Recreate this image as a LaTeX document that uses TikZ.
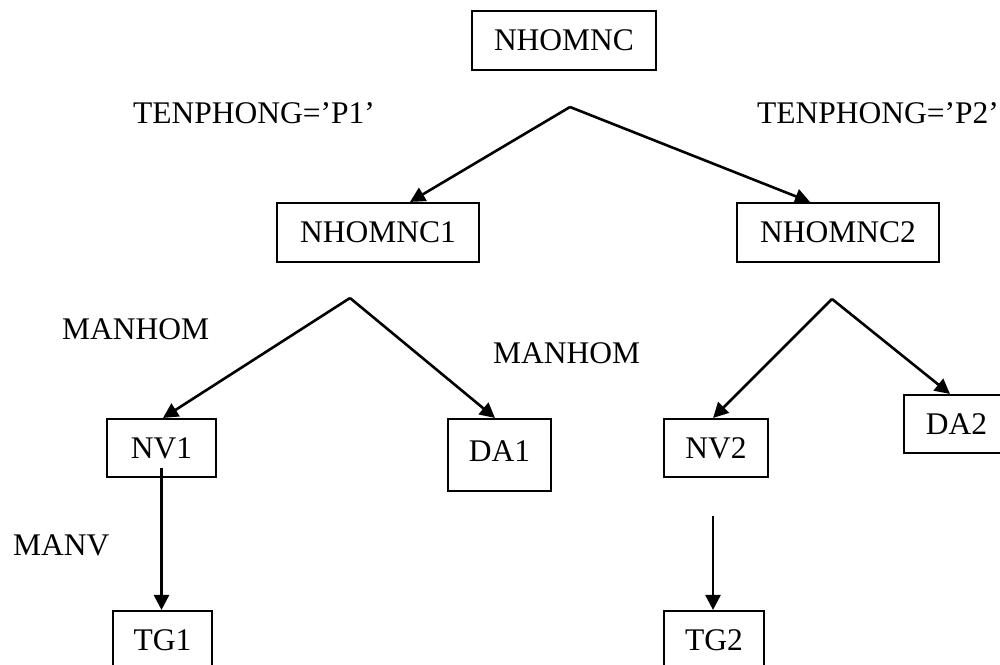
\documentclass[tikz,border=0pt]{standalone}
\usepackage{fontspec}
\setmainfont{Liberation Serif}
\usetikzlibrary{arrows.meta}
\tikzset{
  box/.style={draw, line width=2.1pt, inner sep=0pt, font=\fontsize{31.5pt}{36pt}\selectfont},
  lbl/.style={inner sep=0pt, anchor=base west, font=\fontsize{31.5pt}{36pt}\selectfont},
  arr/.style={line width=2.6pt, -{Triangle[length=15pt,width=15pt]}},
  ln/.style={line width=2.6pt}
}
\begin{document}
\begin{tikzpicture}[x=1pt,y=-1pt]
\useasboundingbox (0,0) rectangle (1000,664);
% boxes
\node[box, minimum width=184pt, minimum height=59pt] (top) at (564,40.5) {NHOMNC};
\node[box, minimum width=202pt, minimum height=59pt] (n1) at (378,232.5) {NHOMNC1};
\node[box, minimum width=202pt, minimum height=59pt] (n2) at (838,232.5) {NHOMNC2};
\node[box, minimum width=109pt, minimum height=58pt] (nv1) at (161.5,448) {NV1};
\node[box, minimum width=103pt, minimum height=72pt, text depth=8pt] (da1) at (499.5,455) {DA1};
\node[box, minimum width=104pt, minimum height=58pt] (nv2) at (716,448) {NV2};
\node[box, minimum width=105pt, minimum height=58pt] (da2) at (956.5,424) {DA2};
\node[box, minimum width=99pt, minimum height=59pt] (tg1) at (162.5,640.5) {TG1};
\node[box, minimum width=100pt, minimum height=59pt] (tg2) at (714,640.5) {TG2};
% labels
\node[lbl] (l1) at (133,123) {TENPHONG=’P1’};
\node[lbl] (l2) at (757,123) {TENPHONG=’P2’};
\node[lbl] (l3) at (62,339) {MANHOM};
\node[lbl] (l4) at (493,363) {MANHOM};
\node[lbl] (l5) at (13,555) {MANV};
% apexes and line starts
\coordinate (a0) at (570,107);
\coordinate (a1) at (350,298);
\coordinate (a2) at (832,299);
\coordinate (s2) at ([xshift=-3pt,yshift=-38pt]nv2.south);
% connectors
\draw[arr] (a0) -- ([xshift=32pt]n1.north);
\draw[arr] (a0) -- ([xshift=-28pt]n2.north);
\draw[arr] (a1) -- ([xshift=1.5pt]nv1.north);
\draw[arr] (a1) -- ([xshift=-4.5pt]da1.north);
\draw[arr] (a2) -- ([xshift=-3pt]nv2.north);
\draw[arr] (a2) -- ([xshift=-6.5pt]da2.north);
\draw[arr] ([yshift=10pt]nv1.south) -- (tg1.north -| nv1.south);
\draw[arr] (s2) -- (tg2.north -| s2);
\end{tikzpicture}
\end{document}
